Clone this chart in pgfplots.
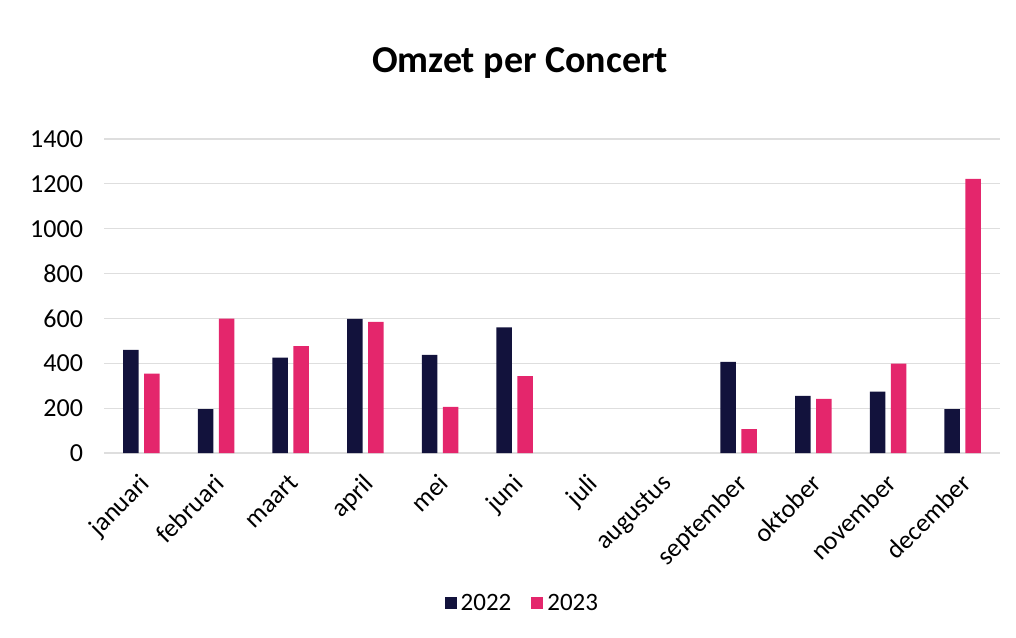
\documentclass[border=0pt]{standalone}
\usepackage{pgfplots}
\pgfplotsset{compat=1.18}
\usepackage{fontspec}
\setmainfont{Carlito}
\definecolor{c22}{RGB}{18,18,60}
\definecolor{c23}{RGB}{228,38,108}
\definecolor{gridc}{RGB}{222,222,222}
\begin{document}
\begin{tikzpicture}
\useasboundingbox (0,0) rectangle (508pt,318.5pt);
\node[anchor=base, font=\fontsize{19}{21}\selectfont\bfseries] at (260pt,282pt) {Omzet per Concert};
\begin{axis}[
  at={(52pt,92pt)}, anchor=south west,
  scale only axis, width=448pt, height=157pt,
  ybar=2.75pt, bar width=7.75pt,
  xmin=-0.5, xmax=11.5, ymin=0, ymax=1400,
  xtick={0,...,11},
  xticklabels={januari,februari,maart,april,mei,juni,juli,augustus,september,oktober,november,december},
  ytick={0,200,...,1400},
  ymajorgrids, grid style={gridc, line width=0.6pt},
  axis line style={draw=none},
  major tick length=0pt,
  tick label style={font=\fontsize{13}{15}\selectfont},
  /pgf/number format/assume math mode=true,
  /pgf/number format/1000 sep={},
  yticklabel style={xshift=-7pt},
  xticklabel style={xshift=-1.5pt, yshift=-9.5pt, rotate=45, anchor=north east, inner sep=0pt},
  legend style={at={(0.468,-0.479)}, anchor=center, draw=none, fill=none,
    font=\fontsize{12.5}{14}\selectfont, legend columns=2,
    /tikz/every even column/.append style={column sep=8pt}},
  legend image code/.code={\fill[#1] (0pt,-3pt) rectangle (6pt,3pt);},
]
\addplot[fill=c22, draw=none] coordinates {(0,460) (1,196) (2,425) (3,598) (4,437) (5,560) (8,406) (9,255) (10,274) (11,196)};
\addplot[fill=c23, draw=none] coordinates {(0,354) (1,599) (2,477) (3,585) (4,206) (5,343) (8,107) (9,241) (10,398) (11,1222)};
\legend{2022,2023}
\end{axis}
\end{tikzpicture}
\end{document}
